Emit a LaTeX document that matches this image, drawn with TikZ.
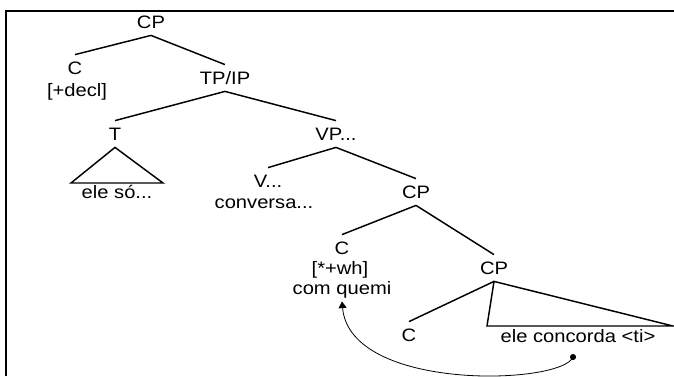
\documentclass[tikz,border=0pt]{standalone}
\usepackage{fontspec}
\setmainfont{Liberation Sans}[FakeStretch=1.12]
\usepackage{tikz}
\usetikzlibrary{arrows.meta}

\begin{document}
\begin{tikzpicture}[x=0.75pt, y=-0.75pt,
                    every node/.style={font=\fontsize{13.5}{16}\selectfont, inner xsep=1pt, inner ysep=5pt, text height=9.7pt, text depth=0pt},
                    branch/.style={color=black!100, line width=1.1pt},
                    movement/.style={color=black!100, line width=0.6pt}]
                    \useasboundingbox (0, 0) rectangle (674, 376);
                    \draw[color=black!100, line width=1.5pt] (6, 376) -- (6, 11) -- (674, 11);

                    % upper CP
                    \node (cptop) at (151, 22) {CP};
                    \node (cdecl) at (75, 68) {C};
                    \node (decl) at (77, 90) {[+decl]};
                    \node (tp) at (225, 78) {TP/IP};
                    \draw[branch] (cptop.south) -- (cdecl.north);
                    \draw[branch] (cptop.south) -- (tp.north);

                    % T and VP
                    \node (t) at (115, 134) {T};
                    \node (vp) at (336, 134) {VP...};
                    \draw[branch] (tp.south) -- (t.north);
                    \draw[branch] (tp.south) -- (vp.north);
                    \coordinate (tleft) at (71, 183);
                    \coordinate (tright) at (163, 183);
                    \draw[branch] (t.south) -- (tleft) -- (tright) -- cycle;
                    \node (eleso) at (117, 192) {ele só...};

                    \node (v) at (268, 181) {V...};
                    \node (conversa) at (264, 202) {conversa...};
                    \node (cpmid) at (416, 192) {CP};
                    \draw[branch] (vp.south) -- (v.north);
                    \draw[branch] (vp.south) -- (cpmid.north);

                    % lower CP
                    \node (cwh) at (342, 248) {C};
                    \node (wh) at (340, 268) {[*+wh]};
                    \node (quem) at (342, 288) {com quemi};
                    \node (cplow) at (494, 268) {CP};
                    \draw[branch] (cpmid.south) -- (cwh.north);
                    \draw[branch] (cpmid.south) -- (cplow.north);

                    \node (clow) at (409, 335) {C};
                    \draw[branch] (cplow.south) -- (clow.north);
                    \coordinate (bleft) at (487, 326);
                    \coordinate (bright) at (673, 326);
                    \draw[branch] (cplow.south) -- (bleft) -- (bright) -- cycle;
                    \node (concorda) at (578, 336) {ele concorda <ti>};

                    % trace
                    \coordinate (trace) at (573, 357);
                    \fill[color=black!100] (trace) circle (2.3pt);
                    \draw[movement, -{Triangle[width=6pt, length=5pt]}] (trace) .. controls (562, 385) and (350, 392) .. (quem.south);
                \end{tikzpicture}
\end{document}
